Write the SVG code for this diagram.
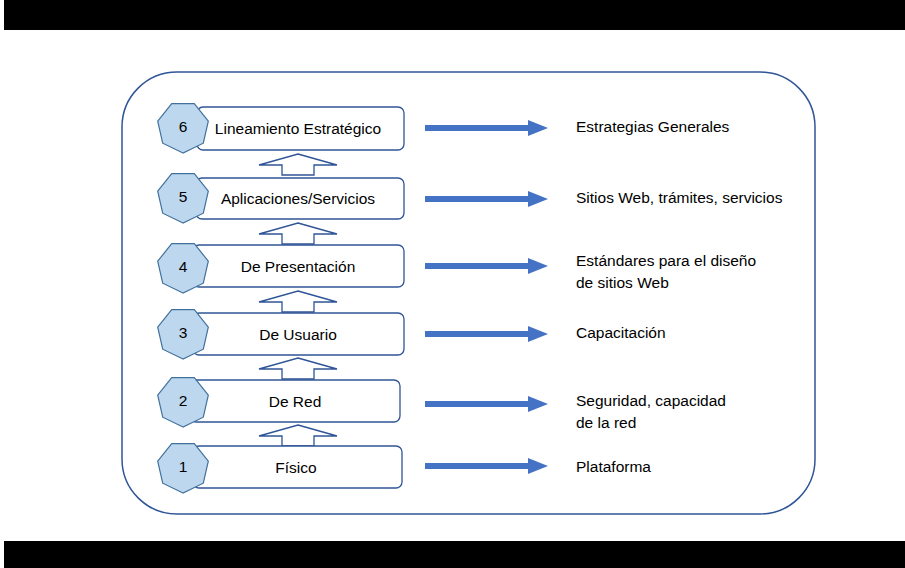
<svg xmlns="http://www.w3.org/2000/svg" width="905" height="568" viewBox="0 0 905 568">
<style>
.box{fill:#fff;stroke:#2F5597;stroke-width:1.3}
.hep{fill:#BDD7EE;stroke:#41719C;stroke-width:1.2}
.up{fill:#fff;stroke:#2F5597;stroke-width:1.3}
.t{font-family:"Liberation Sans",Arial,sans-serif;font-size:15.5px;fill:#000}
.c{text-anchor:middle}
.ar{fill:#4472C4}
</style>
<defs>
<polygon id="hp" points="0,26 -20.3,16.2 -25.3,-5.8 -11.3,-23.4 11.3,-23.4 25.3,-5.8 20.3,16.2"/>
<path id="ra" d="M0,-3 L103,-3 L103,-8 L123,0 L103,8 L103,3 L0,3 Z"/>
<path id="ua" d="M0,-21 L39,-10 L16,-10 L16,0 L-16,0 L-16,-10 L-39,-10 Z"/>
</defs>
<rect x="0" y="0" width="905" height="568" fill="#fff"/>
<rect x="4" y="0" width="901" height="30" fill="#000"/>
<rect x="4" y="541" width="901" height="27" fill="#000"/>
<rect id="frame" x="122" y="72" width="693" height="442" rx="55" ry="55" fill="none" stroke="#2F5597" stroke-width="1.5"/>
<g id="connectors">
<use href="#ua" x="298" y="175" class="up"/>
<use href="#ua" x="298" y="244" class="up"/>
<use href="#ua" x="298" y="312" class="up"/>
<use href="#ua" x="298" y="379" class="up"/>
<use href="#ua" x="298" y="446" class="up"/>
<use href="#ra" x="425" y="128" class="ar"/>
<use href="#ra" x="425" y="199" class="ar"/>
<use href="#ra" x="425" y="266" class="ar"/>
<use href="#ra" x="425" y="334" class="ar"/>
<use href="#ra" x="425" y="404" class="ar"/>
<use href="#ra" x="425" y="466" class="ar"/>
</g>
<g id="n6"><rect class="box" x="197" y="107" width="207" height="43" rx="6"/><use href="#hp" x="183" y="127" class="hep"/><text class="t c" x="183" y="132">6</text><text class="t c" x="298" y="134">Lineamiento Estratégico</text></g>
<g id="n5"><rect class="box" x="196" y="178" width="208" height="41" rx="6"/><use href="#hp" x="183" y="197" class="hep"/><text class="t c" x="183" y="202">5</text><text class="t c" x="298" y="204">Aplicaciones/Servicios</text></g>
<g id="n4"><rect class="box" x="193" y="245" width="211" height="42" rx="6"/><use href="#hp" x="183" y="267" class="hep"/><text class="t c" x="183" y="272">4</text><text class="t c" x="298" y="272">De Presentación</text></g>
<g id="n3"><rect class="box" x="193" y="313" width="211" height="42" rx="6"/><use href="#hp" x="183" y="333" class="hep"/><text class="t c" x="183" y="338">3</text><text class="t c" x="298" y="340">De Usuario</text></g>
<g id="n2"><rect class="box" x="190" y="380" width="210" height="42" rx="6"/><use href="#hp" x="183" y="401" class="hep"/><text class="t c" x="183" y="406">2</text><text class="t c" x="295" y="407">De Red</text></g>
<g id="n1"><rect class="box" x="193" y="446" width="209" height="42" rx="6"/><use href="#hp" x="183" y="467" class="hep"/><text class="t c" x="183" y="472">1</text><text class="t c" x="296" y="473">Físico</text></g>
<g id="labels">
<text class="t" x="576" y="132">Estrategias Generales</text>
<text class="t" x="576" y="203">Sitios Web, trámites, servicios</text>
<text class="t" x="576" y="266">Estándares para el diseño</text>
<text class="t" x="576" y="288">de sitios Web</text>
<text class="t" x="576" y="338">Capacitación</text>
<text class="t" x="576" y="406">Seguridad, capacidad</text>
<text class="t" x="576" y="428">de la red</text>
<text class="t" x="576" y="472">Plataforma</text>
</g>
</svg>
